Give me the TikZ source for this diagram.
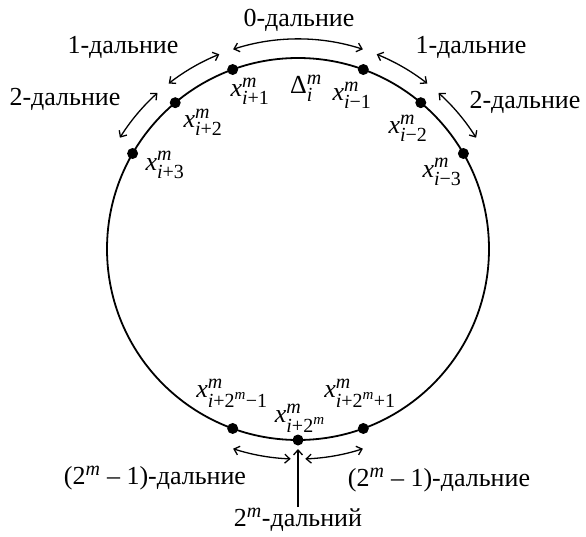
\documentclass[tikz,border=0pt]{standalone}
\usepackage{amsmath}
\usepackage{fontspec}
\setmainfont{Liberation Serif}
\usetikzlibrary{arrows.meta,calc}
\DeclareMathSizes{26}{26}{20}{15}
\newcommand\myi{\text{\itshape i}}
\newcommand\mym{\text{\itshape m}}
\newcommand\vx[1]{$\text{\itshape x}^{\mym}_{#1}$}
\begin{document}
\begin{tikzpicture}[x=1pt,y=1pt,
  lbl/.style={font=\fontsize{26}{30}\selectfont, inner sep=1pt},
  dot/.style={circle, fill=black, inner sep=0pt, minimum size=11pt},
  arr/.style={{Straight Barb[length=5pt,width=9pt]}-{Straight Barb[length=5pt,width=9pt]}, line width=1.3pt},
  uarr/.style={-{Straight Barb[length=5pt,width=9pt]}, line width=1.3pt}]
\useasboundingbox (0,0) rectangle (586,536);
\coordinate (O) at (298,287);
\draw[line width=1.8pt] (O) circle[radius=191pt];
\foreach \n/\a in {p1/110,m1/70,p2/130,m2/50,p3/150,m3/30,b0/270,bm/250,bp/290}
  \node[dot] (\n) at ($(O)+(\a:191)$) {};
\foreach \n/\s/\e in {z/108/72, l1/112/128, l2/132/148, r1/68/52, r2/48/32, bl/252/268, br/272/288} {
  \coordinate (\n) at ($(O)+(\s:210)$);
  \draw[arr] (\n) arc[start angle=\s, end angle=\e, radius=210pt];
}
\node[lbl] (t0) at (299,516) {0-дальние};
\node[lbl] (tl1) at (123,489) {1-дальние};
\node[lbl] (tl2) at (65,437) {2-дальние};
\node[lbl] (tr1) at (471,489) {1-дальние};
\node[lbl] (tr2) at (525,434) {2-дальние};
\node[lbl] (xp1) at (250,445) {\vx{\myi\text{+1}}};
\node[lbl] (dl) at (306,448) {$\text{Δ}^{\mym}_{\myi}$};
\node[lbl] (xm1) at (352,441) {\vx{\myi\text{−1}}};
\node[lbl] (xp2) at (203,414) {\vx{\myi\text{+2}}};
\node[lbl] (xm2) at (408,408) {\vx{\myi\text{−2}}};
\node[lbl] (xp3) at (165,371) {\vx{\myi\text{+3}}};
\node[lbl] (xm3) at (442,364) {\vx{\myi\text{−3}}};
\node[lbl] (xbm) at (232,143) {\vx{\myi\text{+2}^{\mym}\text{−1}}};
\node[lbl] (xbp) at (360,143) {\vx{\myi\text{+2}^{\mym}\text{+1}}};
\node[lbl] (xb0) at (300,118) {\vx{\myi\text{+2}^{\mym}}};
\node[lbl] (tbl) at (155,58) {(2$^{\mym}$ – 1)-дальние};
\node[lbl] (tbr) at (439,56) {(2$^{\mym}$ – 1)-дальние};
\node[lbl] (t2m) at (298,16) {2$^{\mym}$-дальний};
\coordinate (up) at ($(O)+(270:200)$);
\draw[uarr] (t2m.north) -- (up);
\end{tikzpicture}
\end{document}
